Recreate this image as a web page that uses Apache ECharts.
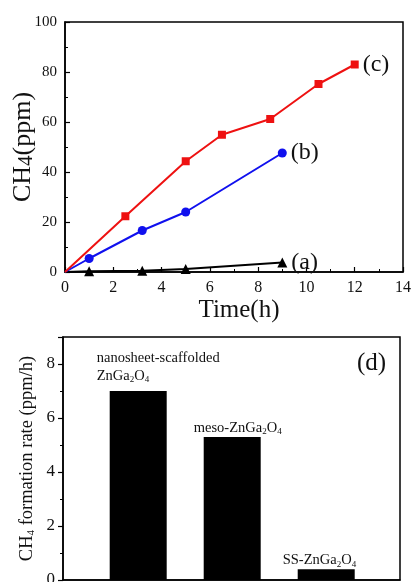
<!DOCTYPE html>
<html>
<head>
<meta charset="utf-8">
<script src="https://cdn.jsdelivr.net/npm/echarts@6/dist/echarts.min.js"></script>
<style>
html, body { margin: 0; padding: 0; background: #fff; }
#chart { width: 413px; height: 582px; }
</style>
</head>
<body>
<div id="chart"></div>
<script>
// 上图：CH4 随时间变化
const timeA = [0, 1, 3.2, 5, 9]
const ch4A = [0, 0.3, 0.5, 1.2, 3.8]
const timeB = [0, 1, 3.2, 5, 9]
const ch4B = [0, 5.4, 16.6, 24.0, 47.6]
const timeC = [0, 2.5, 5, 6.5, 8.5, 10.5, 12]
const ch4C = [0, 22.3, 44.3, 54.9, 61.2, 75.2, 83.0]
const curveLabels = ['(a)', '(b)', '(c)']
// 下图：生成速率
const samples = ['nanosheet', 'meso', 'SS']
const rates = [7.0, 5.3, 0.4]
const sampleLabels = [
  '{n|nanosheet-scaffolded}\n{n|ZnGa}{s|2}{n|O}{s|4}',
  '{n|meso-ZnGa}{s|2}{n|O}{s|4}',
  '{n|SS-ZnGa}{s|2}{n|O}{s|4}'
]

const font = 'Liberation Serif'
const richSub = {
  n: { fontFamily: font, fontSize: 14.5, color: '#111', lineHeight: 18 },
  s: { fontFamily: font, fontSize: 9, color: '#111', lineHeight: 18, padding: [8, 0, 0, 0] }
}

function toPairs (xs, ys, label) {
  return xs.map(function (x, i) {
    let item = { value: [x, ys[i]] }
    if (i === 0) item.symbol = 'none'
    if (i === xs.length - 1) {
      item.label = {
        show: true, position: 'right', distance: 4, formatter: label,
        fontFamily: font, fontSize: 24, color: '#111'
      }
    }
    return item
  })
}

let chart = echarts.init(document.getElementById('chart'))
let axisCommon = {
  nameMoveOverlap: false,
  axisLine: { lineStyle: { color: '#000', width: 1.5 } },
  axisTick: { inside: true, length: 5, lineStyle: { color: '#000', width: 1.2 } },
  minorTick: { show: true, splitNumber: 2, length: 3, lineStyle: { color: '#000', width: 1 } },
  splitLine: { show: false }
}

let option = {
  animation: false,
  backgroundColor: '#fff',
  grid: [
    { left: 65, top: 22, width: 338, height: 250, outerBoundsMode: 'none', show: true, borderColor: '#000', borderWidth: 1.5 },
    { left: 63, top: 337, width: 337, height: 243, outerBoundsMode: 'none', show: true, borderColor: '#000', borderWidth: 1.5 }
  ],
  xAxis: [
    Object.assign({}, axisCommon, {
      gridIndex: 0, type: 'value', min: 0, max: 14, interval: 2,
      axisLabel: { fontFamily: font, fontSize: 16, color: '#111' },
      name: 'Time(h)', nameLocation: 'middle', nameGap: 26,
      nameTextStyle: { fontFamily: font, fontSize: 25, color: '#111', padding: [0, 0, 0, 10] }
    }),
    {
      gridIndex: 1, type: 'value', min: 0.2, max: 3.785,
      axisLine: { lineStyle: { color: '#000', width: 1.5 } },
      axisTick: { show: false }, axisLabel: { show: false }, splitLine: { show: false }
    }
  ],
  yAxis: [
    Object.assign({}, axisCommon, {
      gridIndex: 0, type: 'value', min: 0, max: 100, interval: 20,
      axisLabel: { fontFamily: font, fontSize: 15, color: '#111' },
      name: '{b|CH}{s|4}{b|(ppm)}', nameLocation: 'middle', nameGap: 27,
      nameTextStyle: {
        rich: {
          b: { fontFamily: font, fontSize: 26, color: '#111', lineHeight: 30 },
          s: { fontFamily: font, fontSize: 21, color: '#111', lineHeight: 30, padding: [7, 0, 0, 0] }
        }
      }
    }),
    Object.assign({}, axisCommon, {
      gridIndex: 1, type: 'value', min: 0, max: 9, interval: 2,
      axisTick: { inside: false, length: 5, lineStyle: { color: '#000', width: 1.2 } },
      minorTick: { show: true, splitNumber: 2, length: 3, lineStyle: { color: '#000', width: 1 } },
      axisLabel: { fontFamily: font, fontSize: 17, color: '#111', showMaxLabel: false },
      name: '{n|CH}{s|4}{n| formation rate (ppm/h)}', nameLocation: 'middle', nameGap: 25,
      nameTextStyle: {
        rich: {
          n: { fontFamily: font, fontSize: 18.5, color: '#111', lineHeight: 22 },
          s: { fontFamily: font, fontSize: 11, color: '#111', lineHeight: 22, padding: [9, 0, 0, 0] }
        }
      }
    })
  ],
  graphic: [{
    type: 'text', left: 357, top: 351,
    style: { text: '(d)', fontFamily: font, fontSize: 25, fill: '#111' }
  }],
  series: [
    {
      type: 'line', xAxisIndex: 0, yAxisIndex: 0, data: toPairs(timeA, ch4A, curveLabels[0]),
      symbol: 'triangle', symbolSize: 10, color: '#000', lineStyle: { width: 2, color: '#000' }
    },
    {
      type: 'line', xAxisIndex: 0, yAxisIndex: 0, data: toPairs(timeB, ch4B, curveLabels[1]),
      symbol: 'circle', symbolSize: 9, color: '#1010ee', lineStyle: { width: 2, color: '#1010ee' }
    },
    {
      type: 'line', xAxisIndex: 0, yAxisIndex: 0, data: toPairs(timeC, ch4C, curveLabels[2]),
      symbol: 'rect', symbolSize: 8, color: '#ee1111', lineStyle: { width: 2, color: '#ee1111' }
    },
    {
      type: 'bar', xAxisIndex: 1, yAxisIndex: 1, barWidth: 57,
      itemStyle: { color: '#000' },
      data: samples.map(function (s, i) {
        let pos = [[-13, -6], [-10, 0], [-15, 0]][i]
        return {
          name: s, value: [i + 1, rates[i]],
          label: {
            show: true, position: pos, align: 'left', verticalAlign: 'bottom',
            formatter: sampleLabels[i], rich: richSub
          }
        }
      })
    }
  ]
}

chart.setOption(option)
</script>
</body>
</html>
